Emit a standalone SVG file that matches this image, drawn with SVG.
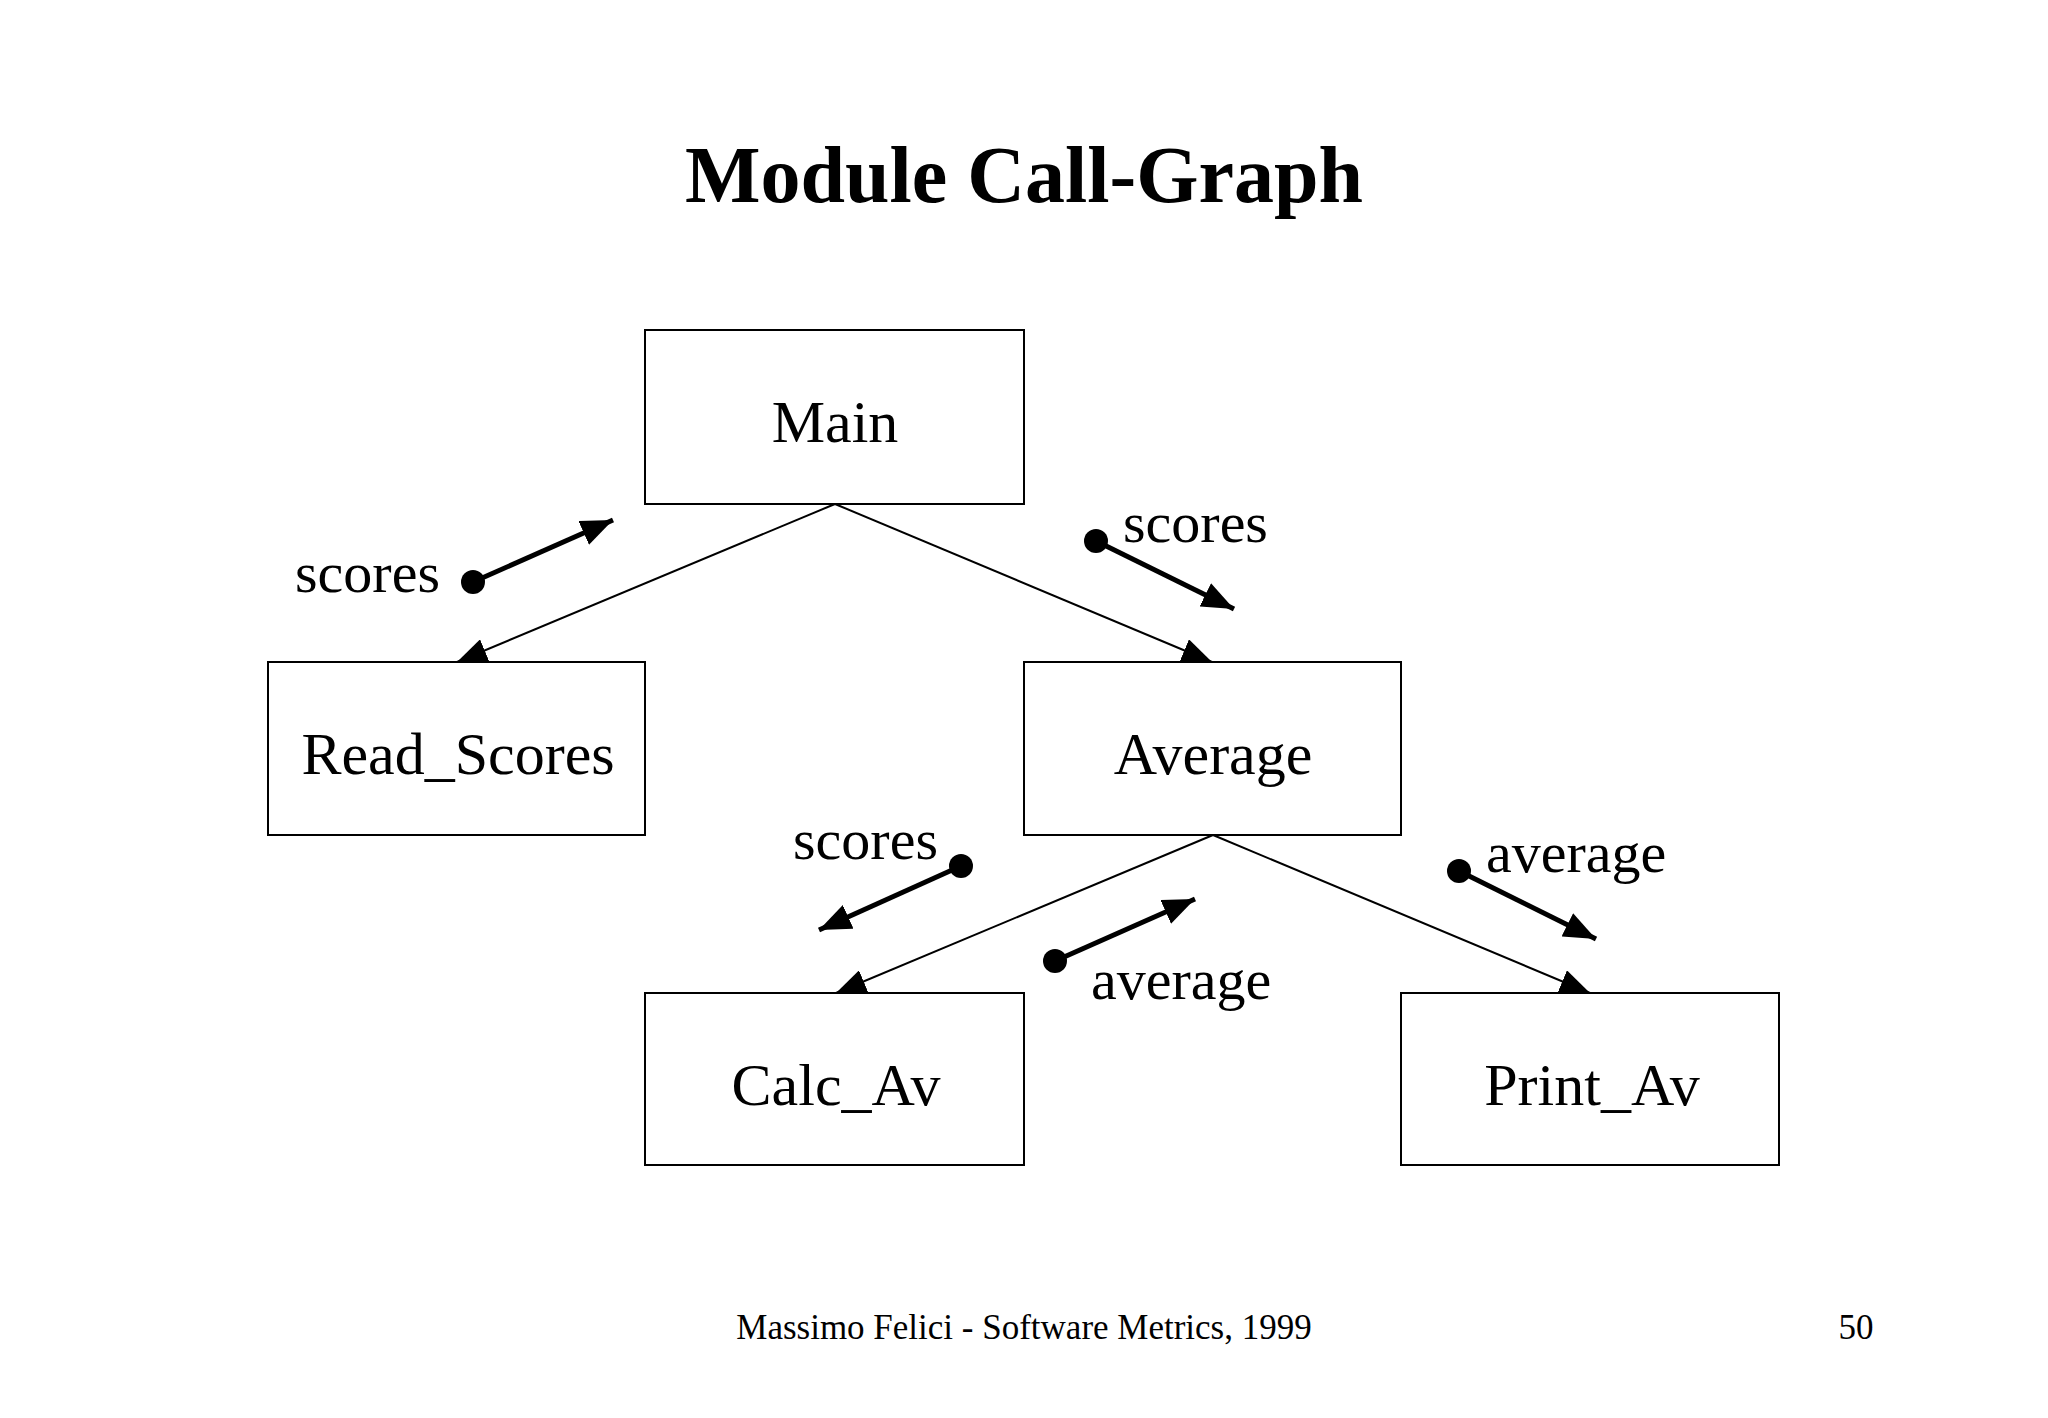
<svg xmlns="http://www.w3.org/2000/svg" width="2048" height="1418" viewBox="0 0 2048 1418">
<style>
text{font-family:"Liberation Serif","Times New Roman",serif;fill:#000}
.box{fill:#fff;stroke:#000;stroke-width:2}
.lbl{font-size:60px;text-anchor:middle}
.fl{font-size:58px}
.thin{stroke:#000;stroke-width:2;fill:none}
.thick{stroke:#000;stroke-width:5;fill:none}
</style>
<defs>
<marker id="ah" markerUnits="userSpaceOnUse" markerWidth="30" markerHeight="24" viewBox="0 0 30 24" refX="30" refY="12" orient="auto"><path d="M0,0 L30,12 L0,24 Z" fill="#000"/></marker>
<marker id="ahb" markerUnits="userSpaceOnUse" markerWidth="32" markerHeight="26" viewBox="0 0 32 26" refX="32" refY="13" orient="auto"><path d="M0,0 L32,13 L0,26 Z" fill="#000"/></marker>
</defs>
<rect width="2048" height="1418" fill="#fff"/>
<text x="1024" y="202" font-size="80" font-weight="bold" text-anchor="middle">Module Call-Graph</text>
<g id="connectors">
<line class="thin" x1="835" y1="504" x2="457" y2="662" marker-end="url(#ah)"/>
<line class="thin" x1="835" y1="504" x2="1212" y2="662" marker-end="url(#ah)"/>
<line class="thin" x1="1213" y1="835" x2="836" y2="993" marker-end="url(#ah)"/>
<line class="thin" x1="1213" y1="835" x2="1590" y2="993" marker-end="url(#ah)"/>
</g>
<g id="flows">
<circle cx="473" cy="582" r="12"/><line class="thick" x1="473" y1="582" x2="613" y2="520" marker-end="url(#ahb)"/>
<text class="fl" x="440" y="592" text-anchor="end">scores</text>
<circle cx="1096" cy="541" r="12"/><line class="thick" x1="1096" y1="541" x2="1234" y2="609" marker-end="url(#ahb)"/>
<text class="fl" x="1123" y="542">scores</text>
<circle cx="961" cy="866" r="12"/><line class="thick" x1="961" y1="866" x2="819" y2="930" marker-end="url(#ahb)"/>
<text class="fl" x="938" y="859" text-anchor="end">scores</text>
<circle cx="1055" cy="961" r="12"/><line class="thick" x1="1055" y1="961" x2="1195" y2="899" marker-end="url(#ahb)"/>
<text class="fl" x="1091" y="999">average</text>
<circle cx="1459" cy="871" r="12"/><line class="thick" x1="1459" y1="871" x2="1596" y2="939" marker-end="url(#ahb)"/>
<text class="fl" x="1486" y="872">average</text>
</g>
<g id="main"><rect class="box" x="645" y="330" width="379" height="174"/><text class="lbl" x="835" y="442">Main</text></g>
<g id="read_scores"><rect class="box" x="268" y="662" width="377" height="173"/><text class="lbl" x="458" y="774">Read_Scores</text></g>
<g id="average"><rect class="box" x="1024" y="662" width="377" height="173"/><text class="lbl" x="1213" y="774">Average</text></g>
<g id="calc_av"><rect class="box" x="645" y="993" width="379" height="172"/><text class="lbl" x="836" y="1105">Calc_Av</text></g>
<g id="print_av"><rect class="box" x="1401" y="993" width="378" height="172"/><text class="lbl" x="1592" y="1105">Print_Av</text></g>
<text x="1024" y="1339" font-size="35" text-anchor="middle">Massimo Felici - Software Metrics, 1999</text>
<text x="1856" y="1339" font-size="35" text-anchor="middle">50</text>
</svg>
